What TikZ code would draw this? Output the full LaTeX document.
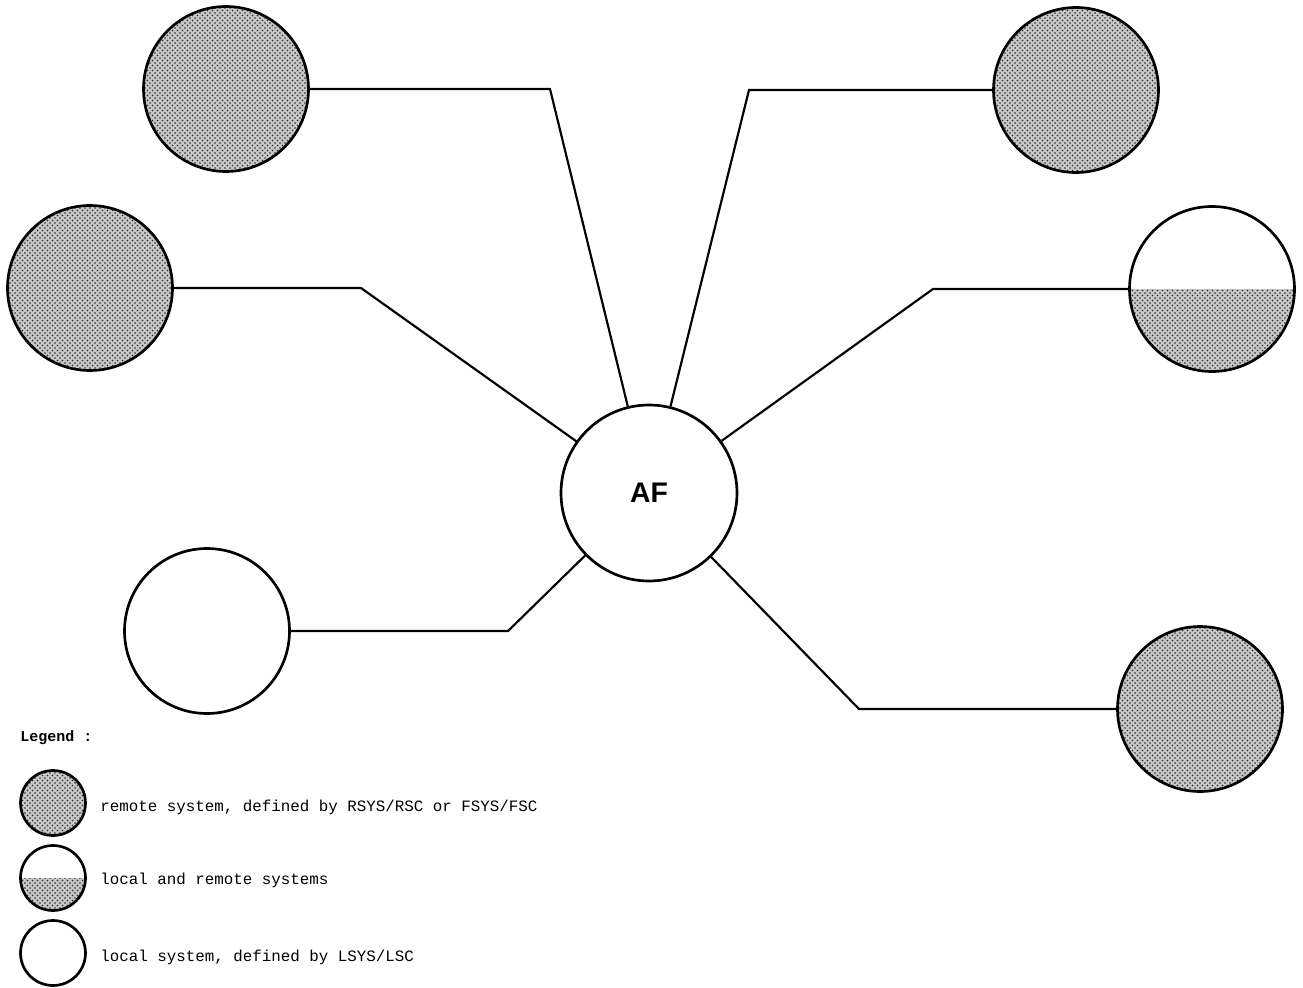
\documentclass[tikz,border=0pt]{standalone}
\usepackage{fontspec}
\setmonofont{Liberation Mono}
\setsansfont{Liberation Sans}
\usetikzlibrary{patterns}

\begin{document}
\begin{tikzpicture}[x=0.6pt,y=-0.6pt,
  sys/.style={circle,draw,line width=1.6pt,minimum size=99pt,inner sep=0pt},
  dotfill/.style={fill=black!22},
  dotpat/.style={pattern=crosshatch dots,pattern color=black!85},
  remote/.style={sys,path picture={
      \fill[dotfill] (path picture bounding box.south west) rectangle (path picture bounding box.north east);
      \fill[dotpat] (path picture bounding box.south west) rectangle (path picture bounding box.north east);}},
  both/.style={sys,path picture={
      \fill[dotfill] (path picture bounding box.west) rectangle (path picture bounding box.south east);
      \fill[dotpat] (path picture bounding box.west) rectangle (path picture bounding box.south east);}},
  small/.style={minimum size=39pt},
  link/.style={line width=1.3pt},
  legtext/.style={anchor=west,inner sep=0pt,font=\ttfamily\fontsize{9.5}{11}\selectfont}
]
\useasboundingbox (0,0) rectangle (1303,988);
% the central node, with the six systems round it
\node[sys,minimum size=105.6pt,font=\sffamily\bfseries\fontsize{17}{20}\selectfont] (af) at (649,493) {AF};
\node[remote] (nw) at (226,89) {};
\node[remote] (w) at (90,288) {};
\node[sys] (sw) at (207,631) {};
\node[remote] (ne) at (1076,90) {};
\node[both] (e) at (1212,289) {};
\node[remote] (se) at (1200,709) {};
% bends of the connectors
\coordinate (nwbend) at (550,89);
\coordinate (wbend) at (361,288);
\coordinate (swbend) at (508,631);
\coordinate (nebend) at (749,90);
\coordinate (ebend) at (933,289);
\coordinate (sebend) at (859,709);
\draw[link] (nw) -- (nwbend) -- (af);
\draw[link] (w) -- (wbend) -- (af);
\draw[link] (sw) -- (swbend) -- (af);
\draw[link] (ne) -- (nebend) -- (af);
\draw[link] (e) -- (ebend) -- (af);
\draw[link] (se) -- (sebend) -- (af);
% legend
\node[legtext,font=\ttfamily\bfseries\fontsize{9}{11}\selectfont] (legend) at (20,738) {Legend :};
\node[remote,small] (lremote) at (53,803) {};
\node[both,small] (lboth) at (53,878) {};
\node[sys,small] (llocal) at (53,953) {};
\node[legtext] (tremote) at (100,807) {remote system, defined by RSYS/RSC or FSYS/FSC};
\node[legtext] (tboth) at (100,880) {local and remote systems};
\node[legtext] (tlocal) at (100,957) {local system, defined by LSYS/LSC};
\end{tikzpicture}
\end{document}
